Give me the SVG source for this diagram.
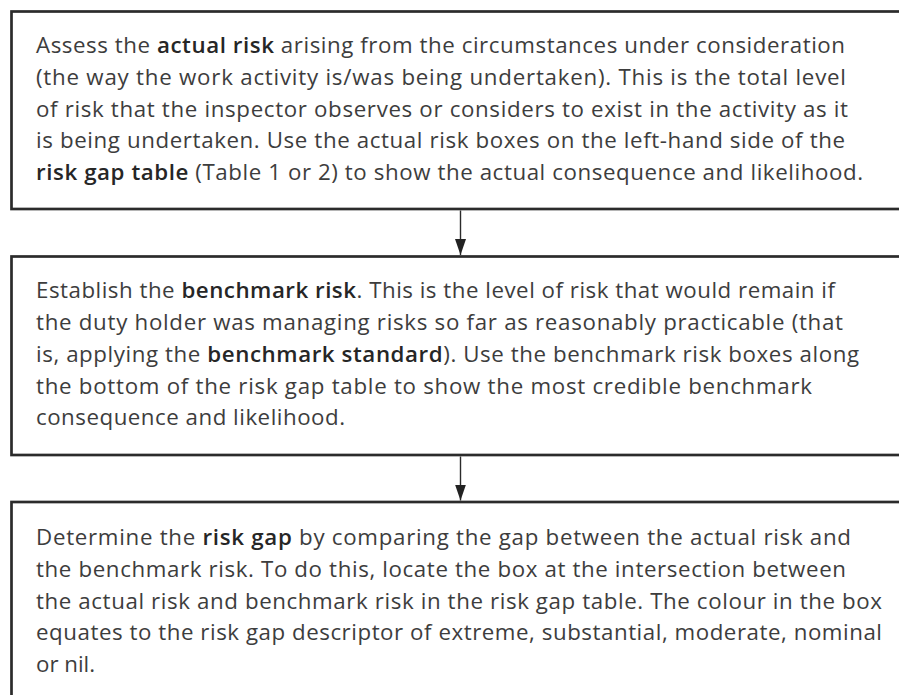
<svg xmlns="http://www.w3.org/2000/svg" width="899" height="695" viewBox="0 0 899 695">
<defs>
<style>
.box{fill:#ffffff;stroke:#2b2b2b;stroke-width:2.7}
.t{font-family:"Open Sans","Liberation Sans",sans-serif;font-size:22.3px;fill:#3d3d3d}
.b{font-weight:600;fill:#262626}
.conn{stroke:#2b2b2b;stroke-width:1.4;fill:none}
</style>
<marker id="ah" markerUnits="userSpaceOnUse" markerWidth="16" markerHeight="12" refX="16" refY="5.5" orient="auto" viewBox="0 0 16 11">
<path d="M0,0 L16,5.5 L0,11 z" fill="#222"/>
</marker>
</defs>
<rect width="899" height="695" fill="#ffffff"/>
<g id="node-actual-risk">
<rect class="box" x="11.5" y="11.5" width="900" height="197.5"/>
<text class="t" x="36" y="53.3" textLength="809">Assess the <tspan class="b">actual risk</tspan> arising from the circumstances under consideration</text>
<text class="t" x="36" y="85" textLength="810">(the way the work activity is/was being undertaken). This is the total level</text>
<text class="t" x="36" y="116.7" textLength="812">of risk that the inspector observes or considers to exist in the activity as it</text>
<text class="t" x="36" y="148.4" textLength="809">is being undertaken. Use the actual risk boxes on the left-hand side of the</text>
<text class="t" x="36" y="180.1" textLength="827"><tspan class="b">risk gap table</tspan> (Table 1 or 2) to show the actual consequence and likelihood.</text>
</g>
<g id="node-benchmark-risk">
<rect class="box" x="11.5" y="256.5" width="900" height="198.5"/>
<text class="t" x="36" y="298.4" textLength="799">Establish the <tspan class="b">benchmark risk</tspan>. This is the level of risk that would remain if</text>
<text class="t" x="36" y="330.1" textLength="807">the duty holder was managing risks so far as reasonably practicable (that</text>
<text class="t" x="36" y="361.8" textLength="823">is, applying the <tspan class="b">benchmark standard</tspan>). Use the benchmark risk boxes along</text>
<text class="t" x="36" y="393.5" textLength="776">the bottom of the risk gap table to show the most credible benchmark</text>
<text class="t" x="36" y="425.2" textLength="309">consequence and likelihood.</text>
</g>
<g id="node-risk-gap">
<rect class="box" x="11.5" y="502" width="900" height="300"/>
<text class="t" x="36" y="545.3" textLength="815">Determine the <tspan class="b">risk gap</tspan> by comparing the gap between the actual risk and</text>
<text class="t" x="36" y="577" textLength="810">the benchmark risk. To do this, locate the box at the intersection between</text>
<text class="t" x="36" y="608.7" textLength="846">the actual risk and benchmark risk in the risk gap table. The colour in the box</text>
<text class="t" x="36" y="640.4" textLength="846">equates to the risk gap descriptor of extreme, substantial, moderate, nominal</text>
<text class="t" x="36" y="672.1" textLength="59">or nil.</text>
</g>
<g id="connectors">
<line class="conn" x1="460.5" y1="210.5" x2="460.5" y2="255" marker-end="url(#ah)"/>
<line class="conn" x1="460.5" y1="456.5" x2="460.5" y2="500.5" marker-end="url(#ah)"/>
</g>
</svg>
